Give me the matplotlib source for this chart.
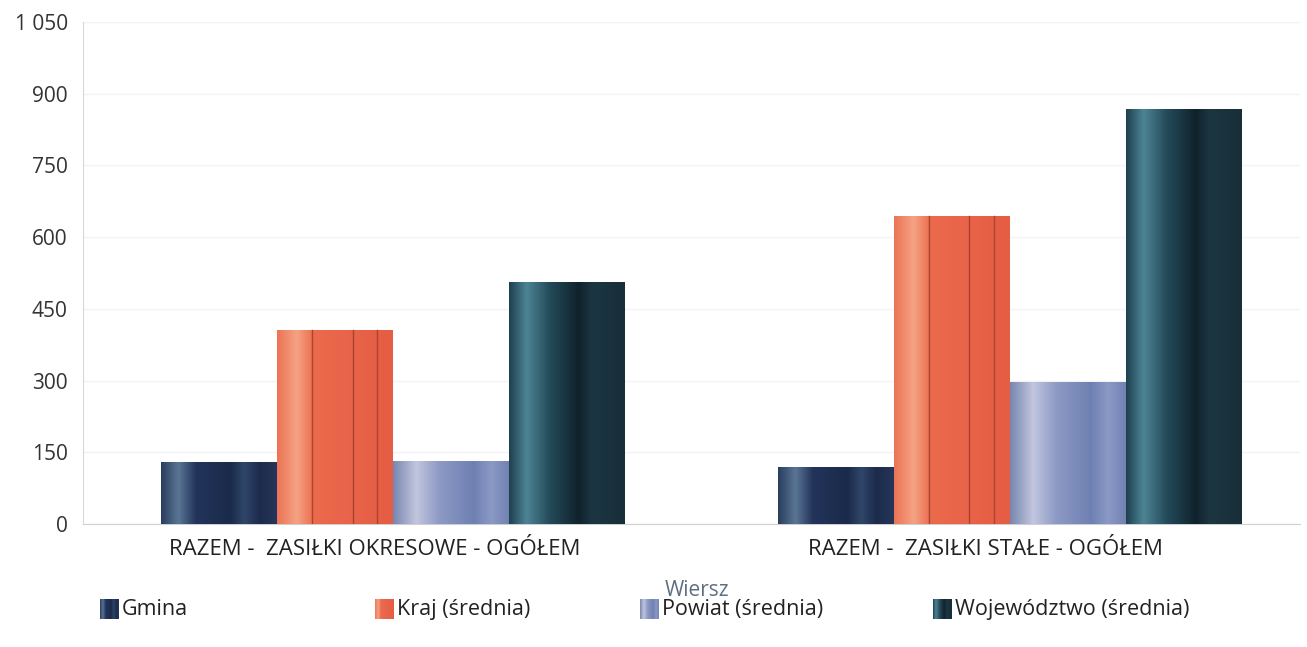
import numpy as np
from matplotlib import pyplot as plt
from matplotlib.colors import LinearSegmentedColormap
from matplotlib.ticker import FuncFormatter

plt.rcParams['font.family'] = ['Open Sans', 'DejaVu Sans']

categories = ['RAZEM -  ZASIŁKI OKRESOWE - OGÓŁEM', 'RAZEM -  ZASIŁKI STAŁE - OGÓŁEM']
series = ['Gmina', 'Kraj (średnia)', 'Powiat (średnia)', 'Województwo (średnia)']
gmina = [130, 119]
kraj = [406, 644]
powiat = [132, 297]
wojewodztwo = [506, 868]
y_ticks = [0, 150, 300, 450, 600, 750, 900, 1050]

# colour stops across each bar (left -> right) to fake the cylinder shading
shades = {
    'Gmina': [(0, '#2a3d5e'), (0.15, '#5a7695'), (0.3, '#22345a'), (0.6, '#1a2a4a'),
              (0.72, '#30466a'), (0.85, '#1c2b4b'), (1, '#24365a')],
    'Kraj (średnia)': [(0, '#ec7355'), (0.17, '#f4a384'), (0.32, '#ec6a4c'),
                       (0.6, '#e9644a'), (1, '#e55d43')],
    'Powiat (średnia)': [(0, '#7886b0'), (0.2, '#c2c6de'), (0.4, '#8d9ac5'),
                         (0.7, '#6e80b2'), (0.85, '#8b99c5'), (1, '#7282b2')],
    'Województwo (średnia)': [(0, '#1e4050'), (0.15, '#4d8494'), (0.35, '#244b5a'),
                              (0.6, '#10222c'), (0.72, '#1b3642'), (1, '#182e38')],
}
solid = {'Gmina': '#223557', 'Kraj (średnia)': '#ea6a4d',
         'Powiat (średnia)': '#8592bf', 'Województwo (średnia)': '#1d3a46'}
grad = np.linspace(0, 1, 256).reshape(1, -1)


def draw_bars(ax, x, values, name, offset, width):
    bars = ax.bar(x + offset, values, width, color=solid[name], linewidth=0)
    cmap = LinearSegmentedColormap.from_list(name, shades[name])
    for b in bars:
        x0, w, h = b.get_x(), b.get_width(), b.get_height()
        im = ax.imshow(grad, cmap=cmap, aspect='auto', extent=(x0, x0 + w, 0, h),
                       zorder=3, interpolation='bicubic')
        im.set_clip_path(b)
        if name == 'Kraj (średnia)':
            for p in (0.3, 0.65, 0.86):
                ax.plot([x0 + p * w] * 2, [0, h], color='#a8442f', lw=1.0, zorder=4)
    return bars


fig = plt.figure(figsize=(13.07, 6.47), dpi=100)
ax = fig.add_axes([0.0635, 0.19, 0.931, 0.776])

x = np.arange(len(categories))
width = 0.188
data = [gmina, kraj, powiat, wojewodztwo]
for i, (name, vals) in enumerate(zip(series, data)):
    draw_bars(ax, x, vals, name, (i - 1.5) * width, width)

ax.set_xlim(-0.503, 1.47)
ax.set_ylim(0, 1050)
ax.set_yticks(y_ticks)
ax.yaxis.set_major_formatter(FuncFormatter(lambda v, p: f'{int(v):,}'.replace(',', ' ')))
# labels sit a little left of the group centres in the original
ax.set_xticks(x + np.array([-0.03, -0.04]))
ax.set_xticklabels(categories)
ax.tick_params(axis='y', length=0, pad=11, labelsize=15, labelcolor='#333333')
ax.tick_params(axis='x', length=0, pad=11, labelsize=16, labelcolor='#222222')
ax.grid(axis='y', color='#f3f3f3', lw=1)
ax.set_axisbelow(True)
for s in ('top', 'right'):
    ax.spines[s].set_visible(False)
ax.spines['left'].set_color('#d8d8d8')
ax.spines['bottom'].set_color('#d0d0d0')

W, H = 1307, 647
fig.text(697 / W, 1 - 596 / H, 'Wiersz', fontsize=15, color='#5f6e82',
         ha='center', va='baseline')

# legend, drawn by hand (squares carry the same shading as the bars)
leg_x = [100, 375, 640, 933]
for px, name in zip(leg_x, series):
    sq = fig.add_axes([px / W, 1 - 619 / H, 19 / W, 20 / H])
    sq.imshow(grad, cmap=LinearSegmentedColormap.from_list(name, shades[name]),
              aspect='auto', interpolation='bicubic')
    sq.set_axis_off()
    fig.text((px + 22) / W, 1 - 615 / H, name, fontsize=15.5, color='#222222',
             va='baseline')

fig.savefig('out.png')
